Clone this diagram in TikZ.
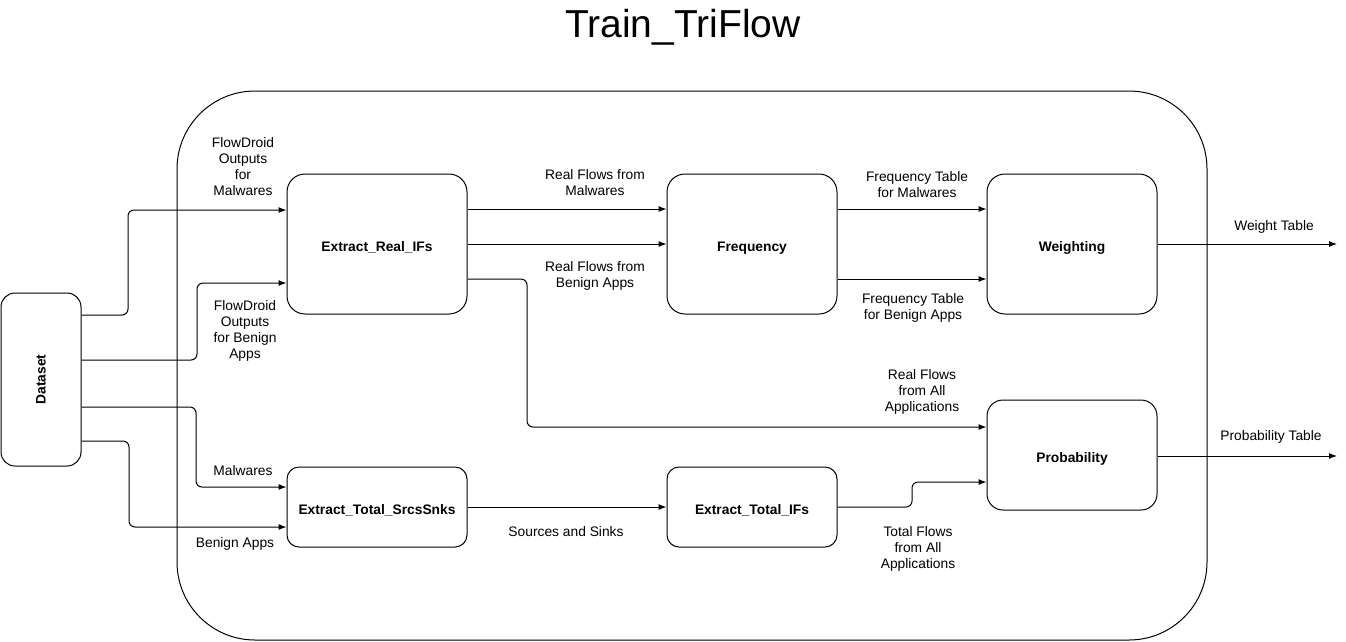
\documentclass[tikz,border=0pt]{standalone}
\usepackage{fontspec}
\setmainfont{Liberation Sans}
\usetikzlibrary{arrows.meta}
\begin{document}
\begin{tikzpicture}[x=1pt,y=-1pt,
  box/.style={draw, line width=1pt, rounded corners=#1, font=\fontsize{13.8}{16}\selectfont\bfseries, inner sep=0pt},
  hbox/.style={box=#1, text height=14pt, text depth=0pt},
  conn/.style={draw, line width=1pt, rounded corners=6pt, -{Latex[length=8pt,width=6pt]}},
  lbl/.style={font=\fontsize{13.8}{16}\selectfont, align=center, inner sep=0pt}]
\useasboundingbox (0,0) rectangle (1346,641);
% title
\node[font=\fontsize{39}{44}\selectfont] (title) at (683,27) {Train\_TriFlow};
% container
\node[draw, line width=1pt, rounded corners=78pt, minimum width=1030pt, minimum height=549pt, inner sep=0pt] (container) at (692,365.5) {};
% boxes
\node[box=14pt, minimum width=80pt, minimum height=173pt] (dataset) at (41,379.5) {\rotatebox{90}{Dataset}};
\node[hbox=18pt, minimum width=180pt, minimum height=140pt] (realifs) at (377,244) {Extract\_Real\_IFs};
\node[hbox=18pt, minimum width=170pt, minimum height=140pt] (freq) at (752,244) {Frequency};
\node[hbox=18pt, minimum width=170pt, minimum height=140pt] (weight) at (1072,244) {Weighting};
\node[hbox=16pt, minimum width=170pt, minimum height=110pt] (prob) at (1072,455) {Probability};
\node[hbox=12pt, minimum width=180pt, minimum height=80pt] (srcsnks) at (377,507) {Extract\_Total\_SrcsSnks};
\node[hbox=12pt, minimum width=170pt, minimum height=80pt] (totalifs) at (752,507) {Extract\_Total\_IFs};
% free ends
\coordinate (wout) at (1337,244);
\coordinate (pout) at (1337,456);
% connectors from dataset
\draw[conn] (dataset.east |- 0,315) -- (128,315) -- (128,210) -- (realifs.west |- 0,210);
\draw[conn] (dataset.east |- 0,360) -- (197,360) -- (197,283) -- (realifs.west |- 0,283);
\draw[conn] (dataset.east |- 0,407) -- (196,407) -- (196,487) -- (srcsnks.west |- 0,487);
\draw[conn] (dataset.east |- 0,441) -- (129,441) -- (129,527) -- (srcsnks.west |- 0,527);
% realifs outputs
\draw[conn] (realifs.east |- 0,209) -- (freq.west |- 0,209);
\draw[conn] (realifs.east |- 0,244) -- (freq.west |- 0,244);
\draw[conn] (realifs.east |- 0,279) -- (527,279) -- (527,427) -- (prob.west |- 0,427);
% frequency outputs
\draw[conn] (freq.east |- 0,209) -- (weight.west |- 0,209);
\draw[conn] (freq.east |- 0,279) -- (weight.west |- 0,279);
% outputs
\draw[conn] (weight.east) -- (wout);
\draw[conn] (prob.east |- pout) -- (pout);
% bottom row
\draw[conn] (srcsnks.east) -- (totalifs.west);
\draw[conn] (totalifs.east) -- (912,507) -- (912,482) -- (prob.west |- 0,482);
% labels
\node[lbl] (l1) at (243,167) {FlowDroid\\Outputs\\for\\Malwares};
\node[lbl] (l2) at (245,331) {FlowDroid\\Outputs\\for Benign\\Apps};
\node[lbl] (l3) at (243,471) {Malwares};
\node[lbl] (l4) at (235,544) {Benign Apps};
\node[lbl] (l5) at (595,183) {Real Flows from\\Malwares};
\node[lbl] (l6) at (595,276) {Real Flows from\\Benign Apps};
\node[lbl] (l7) at (917,185) {Frequency Table\\for Malwares};
\node[lbl] (l8) at (913,308) {Frequency Table\\for Benign Apps};
\node[lbl] (l9) at (1274,227) {Weight Table};
\node[lbl] (l10) at (922,392) {Real Flows\\from All\\Applications};
\node[lbl] (l11) at (1271,437) {Probability Table};
\node[lbl] (l12) at (566,532) {Sources and Sinks};
\node[lbl] (l13) at (918,549) {Total Flows\\from All\\Applications};
\end{tikzpicture}
\end{document}
